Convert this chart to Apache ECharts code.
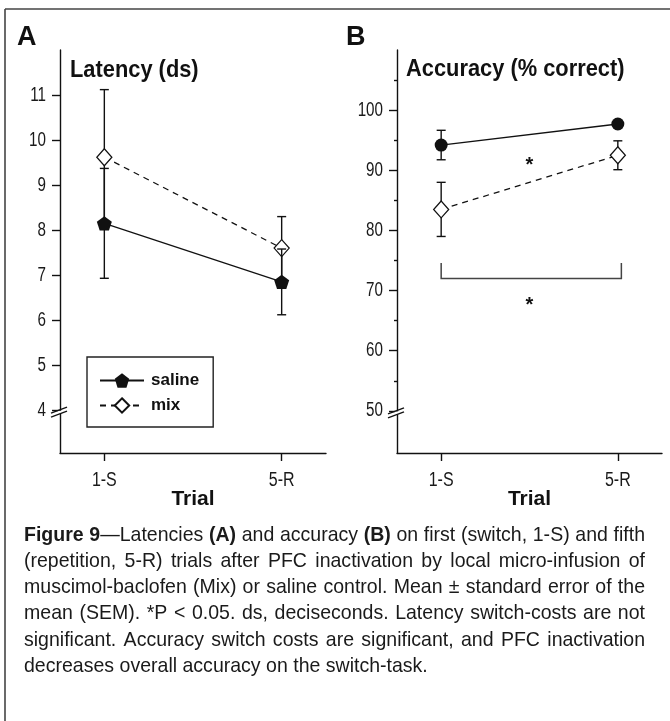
<!DOCTYPE html>
<html><head><meta charset="utf-8">
<script src="https://cdn.jsdelivr.net/npm/echarts@6/dist/echarts.min.js"></script>
<style>html,body{margin:0;padding:0;background:#fff}#c{width:670px;height:721px}</style>
</head><body><div id="c"></div>
<script>
// ---------- data ----------
const trials = ['1-S', '5-R'];
const trialPos = [1, 2];
const latencyTicks = [4, 5, 6, 7, 8, 9, 10, 11];
const accuracyTicks = [50, 60, 70, 80, 90, 100];
const accuracyMinorTicks = [55, 65, 75, 85, 95, 105];
const latencySaline = [8.15, 6.85];
const latencySalineSem = [1.22, 0.73];
const latencyMix = [9.62, 7.60];
const latencyMixSem = [1.50, 0.70];
const accuracySaline = [94.2, 97.7];
const accuracySalineSem = [2.45, 0.4];
const accuracyMix = [83.5, 92.5];
const accuracyMixSem = [4.5, 2.4];
const accuracyStars = [[1.5, 91.7], [1.5, 68.4]];
const accuracyBracket = [[1, 2.02, 72, 74.6]];
const latencyBreak = [[0.75, 4]];
const accuracyBreak = [[0.75, 50]];
const captionLines = [
  "**Figure 9**—Latencies **(A)** and accuracy **(B)** on first (switch, 1-S) and fifth",
  "(repetition, 5-R) trials after PFC inactivation by local micro-infusion of",
  "muscimol-baclofen (Mix) or saline control. Mean ± standard error of the",
  "mean (SEM). *P < 0.05. ds, deciseconds. Latency switch-costs are not",
  "significant. Accuracy switch costs are significant, and PFC inactivation",
  "decreases overall accuracy on the switch-task."
];

// ---------- helpers ----------
const FONT = "'Liberation Sans', Arial, sans-serif";
const INK = '#111';
const pentagon = 'path://M0,-10 L9.511,-3.09 L5.878,8.09 L-5.878,8.09 L-9.511,-3.09 Z';

function pts(vals) { return trialPos.map((x, i) => [x, vals[i]]); }
function errs(vals, sem) { return trialPos.map((x, i) => [x, vals[i] - sem[i], vals[i] + sem[i]]); }

function errorBarItem(params, api) {
  const x = api.value(0), lo = api.value(1), hi = api.value(2);
  const pHi = api.coord([x, hi]), pLo = api.coord([x, lo]);
  const hw = 4.5;
  const style = { stroke: INK, lineWidth: 1.4, fill: null };
  return { type: 'group', children: [
    { type: 'line', shape: { x1: pHi[0], y1: pHi[1], x2: pLo[0], y2: pLo[1] }, style },
    { type: 'line', shape: { x1: pHi[0] - hw, y1: pHi[1], x2: pHi[0] + hw, y2: pHi[1] }, style },
    { type: 'line', shape: { x1: pLo[0] - hw, y1: pLo[1], x2: pLo[0] + hw, y2: pLo[1] }, style }
  ]};
}
function breakItem(params, api) {
  const p = api.coord([api.value(0), api.value(1)]);
  const style = { stroke: INK, lineWidth: 1.3, fill: null };
  const mk = (dy) => ({ type: 'line', shape: { x1: p[0] - 9, y1: p[1] + dy + 3, x2: p[0] + 7, y2: p[1] + dy - 3 }, style });
  return { type: 'group', children: [
    { type: 'rect', shape: { x: p[0] - 2, y: p[1] + 0.5, width: 4, height: 3 }, style: { fill: '#fff' } },
    mk(0), mk(4)
  ]};
}
function starItem(params, api) {
  const p = api.coord([api.value(0), api.value(1)]);
  return { type: 'text', x: p[0], y: p[1] + 5, style: { text: '*', fontSize: 20, fontWeight: 'bold', fontFamily: FONT, fill: INK, align: 'center', verticalAlign: 'middle' } };
}
function bracketItem(params, api) {
  const a = api.coord([api.value(0), api.value(2)]);
  const b = api.coord([api.value(1), api.value(2)]);
  const t = api.coord([api.value(0), api.value(3)]);
  return { type: 'polyline', shape: { points: [[a[0], t[1]], a, b, [b[0], t[1]]] }, style: { stroke: '#444', lineWidth: 1.5, fill: null } };
}
// narrow tick labels drawn from the axis scale
function yLabelItem(params, api) {
  const v = api.value(1);
  const p = api.coord([api.value(0), v]);
  return { type: 'text', x: params.coordSys.x - 14, y: p[1], scaleX: 0.76,
    style: { text: String(v), fontSize: 20, fontFamily: FONT, fill: '#1a1a1a', align: 'right', verticalAlign: 'middle' } };
}
function xLabelItem(params, api) {
  const x = api.value(0);
  const p = api.coord([x, api.value(1)]);
  return { type: 'text', x: p[0], y: params.coordSys.y + params.coordSys.height + 27, scaleX: 0.8,
    style: { text: trials[Math.round(x) - 1], fontSize: 20, fontFamily: FONT, fill: '#1a1a1a', align: 'center', verticalAlign: 'middle' } };
}

function xAxis(grid) {
  return {
    gridIndex: grid, type: 'value', min: 0.75, max: 2.25,
    axisLine: { show: true, onZero: false, lineStyle: { color: INK, width: 1.4 } },
    axisTick: { show: true, customValues: trialPos, length: 8, lineStyle: { color: INK, width: 1.4 } },
    axisLabel: { show: false },
    splitLine: { show: false },
    name: 'Trial', nameLocation: 'middle', nameGap: 36,
    nameTextStyle: { fontSize: 21, fontWeight: 'bold', fontFamily: FONT, color: INK }
  };
}
function yAxis(grid, min, max, ticks) {
  return {
    gridIndex: grid, type: 'value', min, max, position: 'left',
    axisLine: { show: true, onZero: false, lineStyle: { color: INK, width: 1.4 } },
    axisTick: { show: true, customValues: ticks, length: 8, lineStyle: { color: INK, width: 1.4 } },
    axisLabel: { show: false },
    splitLine: { show: false }
  };
}

// ---------- caption layout (justified) ----------
const CAP_SIZE = 21, CAP_SCALE = 0.93, CAP_LEFT = 24, CAP_RIGHT = 645, CAP_TOP = 535, CAP_LH = 26.2;
const mctx = document.createElement('canvas').getContext('2d');
function tw(t, bold) { mctx.font = (bold ? 'bold ' : '') + CAP_SIZE + 'px ' + FONT; return mctx.measureText(t).width * CAP_SCALE; }
const captionGraphics = [];
let boldState = false;
captionLines.forEach((line, li) => {
  const words = line.split(' ').map(w => {
    const parts = w.split('**'); const pieces = [];
    parts.forEach((p, k) => { if (k > 0) boldState = !boldState; if (p) pieces.push([p, boldState]); });
    return pieces;
  });
  const widths = words.map(ps => ps.reduce((s, p) => s + tw(p[0], p[1]), 0));
  const total = widths.reduce((a, b) => a + b, 0);
  const last = li === captionLines.length - 1;
  const gap = last ? tw(' ', false) : (CAP_RIGHT - CAP_LEFT - total) / (words.length - 1);
  let x = CAP_LEFT;
  const y = CAP_TOP + li * CAP_LH;
  words.forEach((ps, wi) => {
    let px = x;
    ps.forEach(p => {
      captionGraphics.push({ type: 'text', x: px, y, scaleX: CAP_SCALE, style: { text: p[0], fontSize: CAP_SIZE, fontFamily: FONT, fontWeight: p[1] ? 'bold' : 'normal', fill: '#1a1a1a', verticalAlign: 'middle' } });
      px += tw(p[0], p[1]);
    });
    x += widths[wi] + gap;
  });
});

// ---------- chart ----------
const chart = echarts.init(document.getElementById('c'), null, { renderer: 'canvas' });
chart.setOption({
  animation: false,
  backgroundColor: '#fff',
  grid: [
    { left: 60, top: 50, width: 266, height: 403 },
    { left: 397, top: 50, width: 265, height: 403 }
  ],
  xAxis: [xAxis(0), xAxis(1)],
  yAxis: [
    yAxis(0, 3.05, 12, latencyTicks),
    yAxis(1, 43, 110, accuracyTicks),
    { gridIndex: 1, type: 'value', min: 43, max: 110, position: 'left',
      axisLine: { show: false }, axisLabel: { show: false }, splitLine: { show: false },
      axisTick: { show: true, customValues: accuracyMinorTicks, length: 3, lineStyle: { color: INK, width: 1.4 } } }
  ],
  legend: {
    data: ['saline', 'mix'], orient: 'vertical', left: 87, top: 357,
    itemWidth: 44, itemHeight: 18, itemGap: 8,
    padding: [15, 14, 13, 12],
    borderColor: '#222', borderWidth: 1.4,
    textStyle: { fontSize: 17, fontWeight: 'bold', fontFamily: FONT, color: INK, padding: [0, 0, 0, 2] }
  },
  graphic: [
    { type: 'line', shape: { x1: 5, y1: 9, x2: 670, y2: 9 }, style: { stroke: '#444', lineWidth: 1.6 } },
    { type: 'line', shape: { x1: 5, y1: 9, x2: 5, y2: 721 }, style: { stroke: '#444', lineWidth: 1.6 } },
    { type: 'text', x: 17, y: 38, style: { text: 'A', fontSize: 27, fontWeight: 'bold', fontFamily: FONT, fill: INK, verticalAlign: 'middle' } },
    { type: 'text', x: 346, y: 38, style: { text: 'B', fontSize: 27, fontWeight: 'bold', fontFamily: FONT, fill: INK, verticalAlign: 'middle' } },
    { type: 'text', x: 70, y: 70, scaleX: 0.91, style: { text: 'Latency (ds)', fontSize: 24, fontWeight: 'bold', fontFamily: FONT, fill: INK, verticalAlign: 'middle' } },
    { type: 'text', x: 406, y: 69, scaleX: 0.91, style: { text: 'Accuracy (% correct)', fontSize: 24, fontWeight: 'bold', fontFamily: FONT, fill: INK, verticalAlign: 'middle' } }
  ].concat(captionGraphics),
  series: [
    { type: 'custom', name: 'mixErrA', xAxisIndex: 0, yAxisIndex: 0, renderItem: errorBarItem, data: errs(latencyMix, latencyMixSem), encode: { x: 0, y: [1, 2] }, z: 2, silent: true },
    { type: 'line', name: 'mix', xAxisIndex: 0, yAxisIndex: 0, data: pts(latencyMix), symbol: 'diamond', symbolSize: [15, 17],
      lineStyle: { color: INK, width: 1.3, type: [6, 5] }, itemStyle: { color: '#fff', borderColor: INK, borderWidth: 1.3 }, z: 3 },
    { type: 'custom', name: 'salErrA', xAxisIndex: 0, yAxisIndex: 0, renderItem: errorBarItem, data: errs(latencySaline, latencySalineSem), encode: { x: 0, y: [1, 2] }, z: 4, silent: true },
    { type: 'line', name: 'saline', xAxisIndex: 0, yAxisIndex: 0, data: pts(latencySaline), symbol: pentagon, symbolSize: 15, symbolKeepAspect: true,
      lineStyle: { color: INK, width: 1.3 }, itemStyle: { color: INK, borderColor: INK, borderWidth: 0 }, z: 5 },

    { type: 'custom', name: 'mixErrB', xAxisIndex: 1, yAxisIndex: 1, renderItem: errorBarItem, data: errs(accuracyMix, accuracyMixSem), encode: { x: 0, y: [1, 2] }, z: 2, silent: true },
    { type: 'line', name: 'mix', xAxisIndex: 1, yAxisIndex: 1, data: pts(accuracyMix), symbol: 'diamond', symbolSize: [15, 17],
      lineStyle: { color: INK, width: 1.3, type: [6, 5] }, itemStyle: { color: '#fff', borderColor: INK, borderWidth: 1.3 }, z: 3 },
    { type: 'custom', name: 'salErrB', xAxisIndex: 1, yAxisIndex: 1, renderItem: errorBarItem, data: errs(accuracySaline, accuracySalineSem), encode: { x: 0, y: [1, 2] }, z: 4, silent: true },
    { type: 'line', name: 'saline', xAxisIndex: 1, yAxisIndex: 1, data: pts(accuracySaline), symbol: 'circle', symbolSize: 13,
      lineStyle: { color: INK, width: 1.3 }, itemStyle: { color: INK, borderColor: INK, borderWidth: 0 }, z: 5 },

    { type: 'custom', name: 'stars', xAxisIndex: 1, yAxisIndex: 1, renderItem: starItem, data: accuracyStars, encode: { x: 0, y: 1 }, z: 6, silent: true },
    { type: 'custom', name: 'bracket', xAxisIndex: 1, yAxisIndex: 1, renderItem: bracketItem, data: accuracyBracket, encode: { x: [0, 1], y: [2, 3] }, z: 6, silent: true },
    { type: 'custom', name: 'breakA', xAxisIndex: 0, yAxisIndex: 0, renderItem: breakItem, data: latencyBreak, encode: { x: 0, y: 1 }, z: 7, clip: false, silent: true },
    { type: 'custom', name: 'breakB', xAxisIndex: 1, yAxisIndex: 1, renderItem: breakItem, data: accuracyBreak, encode: { x: 0, y: 1 }, z: 7, clip: false, silent: true },

    { type: 'custom', name: 'yLabelsA', xAxisIndex: 0, yAxisIndex: 0, renderItem: yLabelItem, data: latencyTicks.map(v => [trialPos[0], v]), encode: { x: 0, y: 1 }, clip: false, silent: true },
    { type: 'custom', name: 'yLabelsB', xAxisIndex: 1, yAxisIndex: 1, renderItem: yLabelItem, data: accuracyTicks.map(v => [trialPos[0], v]), encode: { x: 0, y: 1 }, clip: false, silent: true },
    { type: 'custom', name: 'xLabelsA', xAxisIndex: 0, yAxisIndex: 0, renderItem: xLabelItem, data: trialPos.map(x => [x, 3.05]), encode: { x: 0, y: 1 }, clip: false, silent: true },
    { type: 'custom', name: 'xLabelsB', xAxisIndex: 1, yAxisIndex: 1, renderItem: xLabelItem, data: trialPos.map(x => [x, 43]), encode: { x: 0, y: 1 }, clip: false, silent: true }
  ]
});
</script></body></html>
